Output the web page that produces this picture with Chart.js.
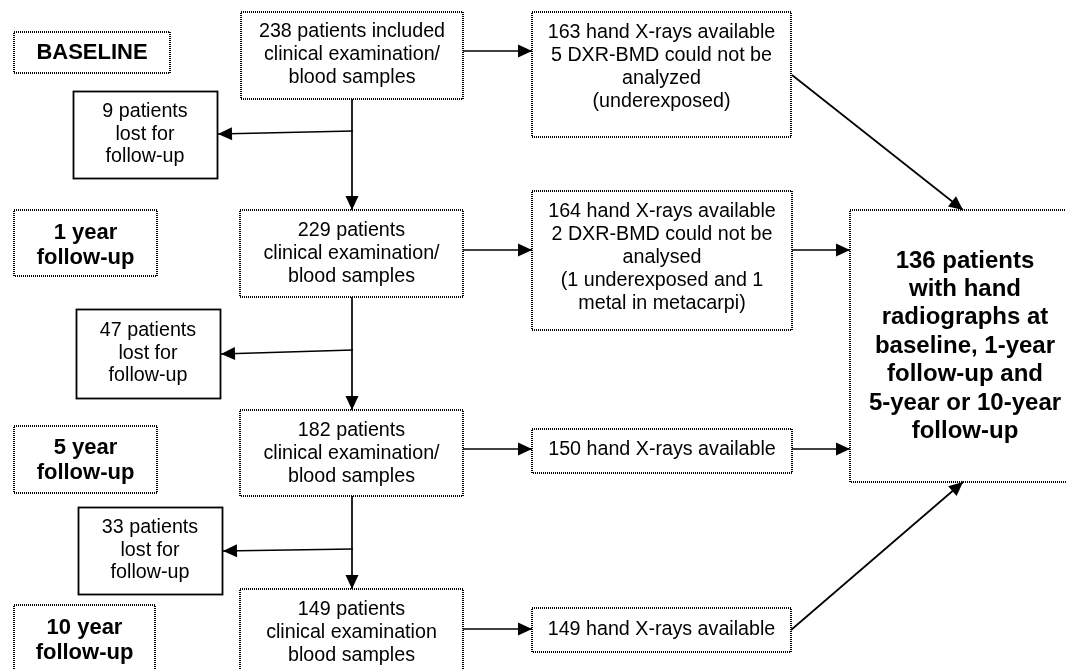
<!DOCTYPE html>
<html>
<head>
<meta charset="utf-8">
<title>Patient flow</title>
<script src="https://cdn.jsdelivr.net/npm/chart.js@4/dist/chart.umd.min.js"></script>
<style>
	html, body { margin: 0; padding: 0; background: #fff; }
	#flow { display: block; }
</style>
</head>
<body>
<canvas id="flow" width="1066" height="669"></canvas>
<script>
;(function () {
	'use strict';

	// Texts of the boxes
	var stageLabels = [
		['BASELINE'],
		['1 year', 'follow-up'],
		['5 year', 'follow-up'],
		['10 year', 'follow-up']
	];
	var patientLabels = [
		['238 patients included', 'clinical examination/', 'blood samples'],
		['229 patients', 'clinical examination/', 'blood samples'],
		['182 patients', 'clinical examination/', 'blood samples'],
		['149 patients', 'clinical examination', 'blood samples']
	];
	var lostLabels = [
		['9 patients', 'lost for', 'follow-up'],
		['47 patients', 'lost for', 'follow-up'],
		['33 patients', 'lost for', 'follow-up']
	];
	var xrayLabels = [
		['163 hand X-rays available', '5 DXR-BMD could not be', 'analyzed', '(underexposed)'],
		['164 hand X-rays available', '2 DXR-BMD could not be', 'analysed', '(1 underexposed and 1', 'metal in metacarpi)'],
		['150 hand X-rays available'],
		['149 hand X-rays available']
	];
	var resultLabel = ['136 patients', 'with hand', 'radiographs at', 'baseline, 1-year', 'follow-up and', '5-year or 10-year', 'follow-up'];

	// Box extents in diagram units: [left, top, right, bottom]
	var stageBoxes   = [[14, 32, 170, 73], [14, 210, 157, 276], [14, 426, 157, 493], [14, 605, 155, 680]];
	var patientBoxes = [[241, 12, 463, 99], [240, 210, 463, 297], [240, 410, 463, 496], [240, 589, 463, 680]];
	var lostBoxes    = [[73, 91, 217, 178], [76, 309, 220, 398], [78, 507, 222, 594]];
	var xrayBoxes    = [[532, 12, 791, 137], [532, 191, 792, 330], [532, 429, 792, 473], [532, 608, 791, 652]];
	var resultBox    = [850, 210, 1080, 482];

	// y of the first text line in each box
	var stageTextY   = [53, 233, 448, 628];
	var patientTextY = [32, 231, 431, 610];
	var lostTextY    = [112, 331, 528];
	var xrayTextY    = [33, 212, 450, 630];
	var resultTextX  = 965;
	var resultTextY  = 261;

	// Connectors: [x1, y1, x2, y2], arrow head at the second point
	var arrows = [
		[352, 99, 352, 210],
		[352, 297, 352, 410],
		[352, 496, 352, 589],
		[353, 131, 218, 134],
		[353, 350, 221, 354],
		[353, 549, 223, 551],
		[463, 51, 532, 51],
		[463, 250, 532, 250],
		[463, 449, 532, 449],
		[463, 629, 532, 629],
		[792, 250, 850, 250],
		[792, 449, 850, 449],
		[792, 75, 963, 210],
		[791, 630, 963, 482]
	];

	var FONT = '"Liberation Sans", Arial, sans-serif';

	var datasets = arrows.map(function (a) {
		return {
			data: [{x: a[0], y: a[1]}, {x: a[2], y: a[3]}],
			showLine: true,
			borderColor: '#000',
			borderWidth: 1.7,
			pointRadius: 0,
			fill: false
		};
	});

	function drawBox(chart, box, dotted) {
		var ctx = chart.ctx,
			sx = chart.scales.x,
			sy = chart.scales.y,
			x1 = Math.round(sx.getPixelForValue(box[0])),
			y1 = Math.round(sy.getPixelForValue(box[1])),
			x2 = Math.round(sx.getPixelForValue(box[2])),
			y2 = Math.round(sy.getPixelForValue(box[3]));

		ctx.save();
		ctx.strokeStyle = '#000';
		if (dotted) {
			// crisp 1px dots, 2px thick
			ctx.lineWidth = 2;
			ctx.setLineDash([1, 1]);
		} else {
			ctx.lineWidth = 1.8;
			x1 += 0.5; y1 += 0.5; x2 += 0.5; y2 += 0.5;
		}
		ctx.strokeRect(x1, y1, x2 - x1, y2 - y1);
		ctx.restore();
	}

	function drawText(chart, lines, cx, firstY, step, font) {
		var ctx = chart.ctx,
			sx = chart.scales.x,
			sy = chart.scales.y;

		ctx.save();
		ctx.fillStyle = '#000';
		ctx.font = font;
		ctx.textAlign = 'center';
		ctx.textBaseline = 'middle';
		lines.forEach(function (line, i) {
			ctx.fillText(line, sx.getPixelForValue(cx), sy.getPixelForValue(firstY + i * step));
		});
		ctx.restore();
	}

	function centre(box) {
		return (box[0] + box[2]) / 2;
	}

	var flowPlugin = {
		id: 'flow',
		beforeDatasetsDraw: function (chart) {
			stageBoxes.forEach(function (b) { drawBox(chart, b, true); });
			patientBoxes.forEach(function (b) { drawBox(chart, b, true); });
			xrayBoxes.forEach(function (b) { drawBox(chart, b, true); });
			drawBox(chart, resultBox, true);
			lostBoxes.forEach(function (b) { drawBox(chart, b, false); });
		},
		afterDatasetsDraw: function (chart) {
			var ctx = chart.ctx;

			// arrow heads
			chart.data.datasets.forEach(function (ds, i) {
				var pts = chart.getDatasetMeta(i).data,
					a = pts[pts.length - 2],
					b = pts[pts.length - 1],
					ang = Math.atan2(b.y - a.y, b.x - a.x),
					len = 14,
					half = 6.5;

				ctx.save();
				ctx.translate(b.x, b.y);
				ctx.rotate(ang);
				ctx.beginPath();
				ctx.moveTo(0, 0);
				ctx.lineTo(-len, -half);
				ctx.lineTo(-len, half);
				ctx.closePath();
				ctx.fillStyle = '#000';
				ctx.fill();
				ctx.restore();
			});

			stageLabels.forEach(function (l, i) {
				drawText(chart, l, centre(stageBoxes[i]), stageTextY[i], 25, 'bold 22px ' + FONT);
			});
			patientLabels.forEach(function (l, i) {
				drawText(chart, l, centre(patientBoxes[i]), patientTextY[i], 22.8, '19.7px ' + FONT);
			});
			lostLabels.forEach(function (l, i) {
				drawText(chart, l, centre(lostBoxes[i]), lostTextY[i], 22.5, '19.7px ' + FONT);
			});
			xrayLabels.forEach(function (l, i) {
				drawText(chart, l, centre(xrayBoxes[i]), xrayTextY[i], 23, '19.7px ' + FONT);
			});
			drawText(chart, resultLabel, resultTextX, resultTextY, 28.4, 'bold 24px ' + FONT);
		}
	};

	new Chart(document.getElementById('flow').getContext('2d'), {
		type: 'scatter',
		data: {datasets: datasets},
		options: {
			responsive: false,
			animation: false,
			devicePixelRatio: 1,
			layout: {padding: 0},
			events: [],
			plugins: {
				legend: {display: false},
				tooltip: {enabled: false}
			},
			scales: {
				x: {type: 'linear', min: 0, max: 1066, display: false},
				y: {type: 'linear', min: 0, max: 669, reverse: true, display: false}
			}
		},
		plugins: [flowPlugin]
	});
})();
</script>
</body>
</html>
